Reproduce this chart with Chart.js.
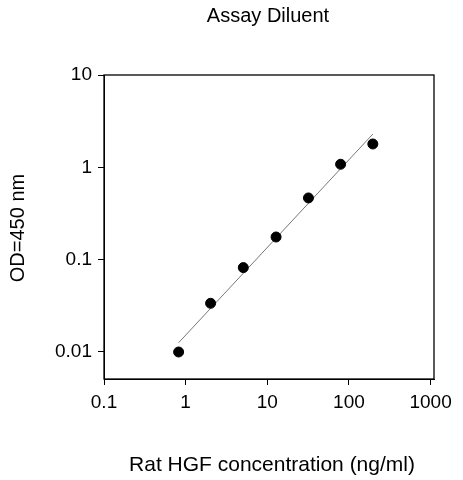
<!DOCTYPE html>
<html>
<head>
<script src="https://cdn.jsdelivr.net/npm/chart.js@4"></script>
<style>body{margin:0;background:#fff}</style>
</head>
<body>
<canvas id="c" width="463" height="480"></canvas>
<script>
const concentrations = [0.82, 2.02, 5.08, 12.8, 31.9, 79, 196];
const odValues = [0.0100, 0.0337, 0.082, 0.176, 0.466, 1.08, 1.79];
const fitX = [0.82, 196];
const fitY = [0.0126, 2.29];
const xTicks = [0.1, 1, 10, 100, 1000];
const yTicks = [0.01, 0.1, 1, 10];

const font = { family: "Liberation Sans, Arial", size: 19 };

const frame = {
  id: "frame",
  afterDraw(chart) {
    const { ctx, chartArea: a } = chart;
    ctx.save();
    ctx.strokeStyle = "#000";
    ctx.lineWidth = 1.3;
    ctx.strokeRect(a.left, a.top, a.right - a.left, a.bottom - a.top);
    ctx.fillStyle = "#000";
    ctx.textAlign = "center";
    ctx.textBaseline = "middle";
    ctx.font = "20px Liberation Sans, Arial";
    ctx.fillText("Assay Diluent", 268, 16);
    ctx.font = "21px Liberation Sans, Arial";
    ctx.fillText("Rat HGF concentration (ng/ml)", 272, 465);
    ctx.translate(18, 228);
    ctx.rotate(-Math.PI / 2);
    ctx.font = "20px Liberation Sans, Arial";
    ctx.fillText("OD=450 nm", 0, 0);
    ctx.restore();
  },
};

new Chart(document.getElementById("c"), {
  type: "scatter",
  data: {
    datasets: [
      {
        data: concentrations.map((x, i) => ({ x, y: odValues[i] })),
        backgroundColor: "#000",
        borderColor: "#000",
        pointRadius: 5,
      },
      {
        data: fitX.map((x, i) => ({ x, y: fitY[i] })),
        showLine: true,
        borderColor: "#777",
        borderWidth: 1,
        pointRadius: 0,
      },
    ],
  },
  options: {
    responsive: false,
    animation: false,
    layout: { padding: { top: 75, right: 29, left: 0, bottom: 0 } },
    plugins: { legend: { display: false }, tooltip: { enabled: false } },
    scales: {
      x: {
        type: "logarithmic",
        min: 0.1,
        max: 1100,
        afterBuildTicks: (s) => { s.ticks = xTicks.map((v) => ({ value: v })); },
        afterFit: (s) => { s.height = 101; },
        grid: { drawOnChartArea: false, tickLength: 6, color: "#000" },
        border: { color: "#000" },
        ticks: { color: "#000", font, padding: 6, callback: (v) => String(v) },
      },
      y: {
        type: "logarithmic",
        min: 0.0051,
        max: 10,
        afterBuildTicks: (s) => { s.ticks = yTicks.map((v) => ({ value: v })); },
        afterFit: (s) => { s.width = 104; },
        grid: { drawOnChartArea: false, tickLength: 6, color: "#000" },
        border: { color: "#000" },
        ticks: { color: "#000", font, padding: 6, callback: (v) => String(v) },
      },
    },
  },
  plugins: [frame],
});
</script>
</body>
</html>
